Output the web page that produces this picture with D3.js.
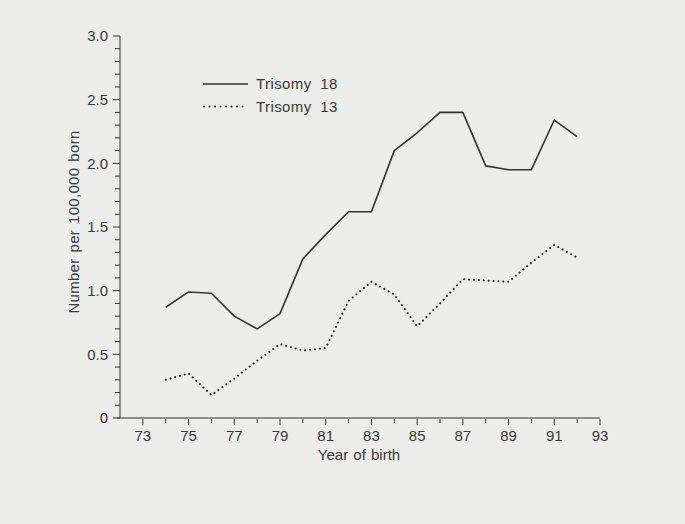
<!DOCTYPE html>
<html>
<head>
<meta charset="utf-8">
<script src="https://cdn.jsdelivr.net/npm/d3@7"></script>
<style>
  html, body { margin: 0; padding: 0; background: #ececea; }
  svg { display: block; }
  text { font-family: "Liberation Sans", Arial, Helvetica, sans-serif; fill: #3a3a3a; }
</style>
</head>
<body>
<svg id="chart" width="685" height="524"></svg>
<script>
// Data
const years = [74, 75, 76, 77, 78, 79, 80, 81, 82, 83, 84, 85, 86, 87, 88, 89, 90, 91, 92];
const trisomy18 = [0.87, 0.99, 0.98, 0.80, 0.70, 0.82, 1.25, 1.44, 1.62, 1.62, 2.10, 2.24, 2.40, 2.40, 1.98, 1.95, 1.95, 2.34, 2.21];
const trisomy13 = [0.30, 0.35, 0.18, 0.31, 0.45, 0.58, 0.53, 0.55, 0.92, 1.07, 0.97, 0.72, 0.90, 1.09, 1.08, 1.07, 1.22, 1.36, 1.26];
const xTickLabels = ["73", "75", "77", "79", "81", "83", "85", "87", "89", "91", "93"];
const yTickLabels = ["0", "0.5", "1.0", "1.5", "2.0", "2.5", "3.0"];
const seriesNames = ["Trisomy 18", "Trisomy 13"];

const svg = d3.select("#chart");
const ink = "#333";
const fs = 15;

const x = d3.scaleLinear().domain([72, 93]).range([120, 600]);
const y = d3.scaleLinear().domain([0, 3]).range([418, 36]);

// Y axis
const gy = svg.append("g").attr("transform", `translate(${x(72)},0)`);
gy.append("line").attr("x1", 0).attr("x2", 0).attr("y1", y(3)).attr("y2", y(0))
  .attr("stroke", ink).attr("stroke-width", 1);
const yMinor = d3.range(0, 31).map(d => d / 10);
gy.selectAll("line.ytick").data(yMinor).join("line")
  .attr("class", "ytick")
  .attr("x1", d => (Math.round(d * 10) % 5 === 0 ? -7 : -5)).attr("x2", 0)
  .attr("y1", d => y(d)).attr("y2", d => y(d))
  .attr("stroke", ink).attr("stroke-width", 1);
gy.selectAll("text.ylab").data(yTickLabels).join("text")
  .attr("class", "ylab")
  .attr("x", -12).attr("y", d => y(+d))
  .attr("dy", "0.35em").attr("text-anchor", "end")
  .attr("font-size", fs).text(d => d);

// X axis
const gx = svg.append("g").attr("transform", `translate(0,${y(0)})`);
gx.append("line").attr("x1", x(72) - 3).attr("x2", x(93)).attr("y1", 0).attr("y2", 0)
  .attr("stroke", ink).attr("stroke-width", 1);
const xAll = d3.range(73, 94);
gx.selectAll("line.xtick").data(xAll).join("line")
  .attr("class", "xtick")
  .attr("x1", d => x(d)).attr("x2", d => x(d))
  .attr("y1", 1).attr("y2", d => (d % 2 === 1 ? 7 : 5))
  .attr("stroke", ink).attr("stroke-width", 1);
gx.selectAll("text.xlab").data(xTickLabels).join("text")
  .attr("class", "xlab")
  .attr("x", d => x(+d)).attr("y", 23)
  .attr("text-anchor", "middle").attr("font-size", fs).text(d => d);

// Axis titles
svg.append("text").attr("x", 359).attr("y", 460).attr("text-anchor", "middle")
  .attr("font-size", fs).attr("word-spacing", 1).text("Year of birth");
svg.append("text").attr("transform", `translate(79,222) rotate(-90)`)
  .attr("text-anchor", "middle").attr("font-size", fs)
  .attr("letter-spacing", 0.3).attr("word-spacing", 1.5)
  .text("Number per 100,000 born");

// Lines
const line = d3.line().x(d => x(d[0])).y(d => y(d[1]));
svg.append("path").datum(years.map((yr, i) => [yr, trisomy18[i]]))
  .attr("d", line).attr("fill", "none").attr("stroke", ink).attr("stroke-width", 1.6)
  .attr("stroke-linejoin", "round");
svg.append("path").datum(years.map((yr, i) => [yr, trisomy13[i]]))
  .attr("d", line).attr("fill", "none").attr("stroke", "#222").attr("stroke-width", 2)
  .attr("stroke-dasharray", "0.1,4.8").attr("stroke-linecap", "round");

// Legend
const legend = svg.append("g");
const legendY = [84, 106.5];
legend.append("line").attr("x1", 203).attr("x2", 248).attr("y1", legendY[0]).attr("y2", legendY[0])
  .attr("stroke", ink).attr("stroke-width", 1.6);
legend.append("line").attr("x1", 204).attr("x2", 248).attr("y1", legendY[1]).attr("y2", legendY[1])
  .attr("stroke", "#222").attr("stroke-width", 2)
  .attr("stroke-dasharray", "0.1,5.4").attr("stroke-linecap", "round");
legend.selectAll("text").data(seriesNames).join("text")
  .attr("x", 256).attr("y", (d, i) => legendY[i]).attr("dy", "0.35em")
  .attr("font-size", fs).attr("letter-spacing", 0.4).attr("word-spacing", 4)
  .text(d => d);
</script>
</body>
</html>
